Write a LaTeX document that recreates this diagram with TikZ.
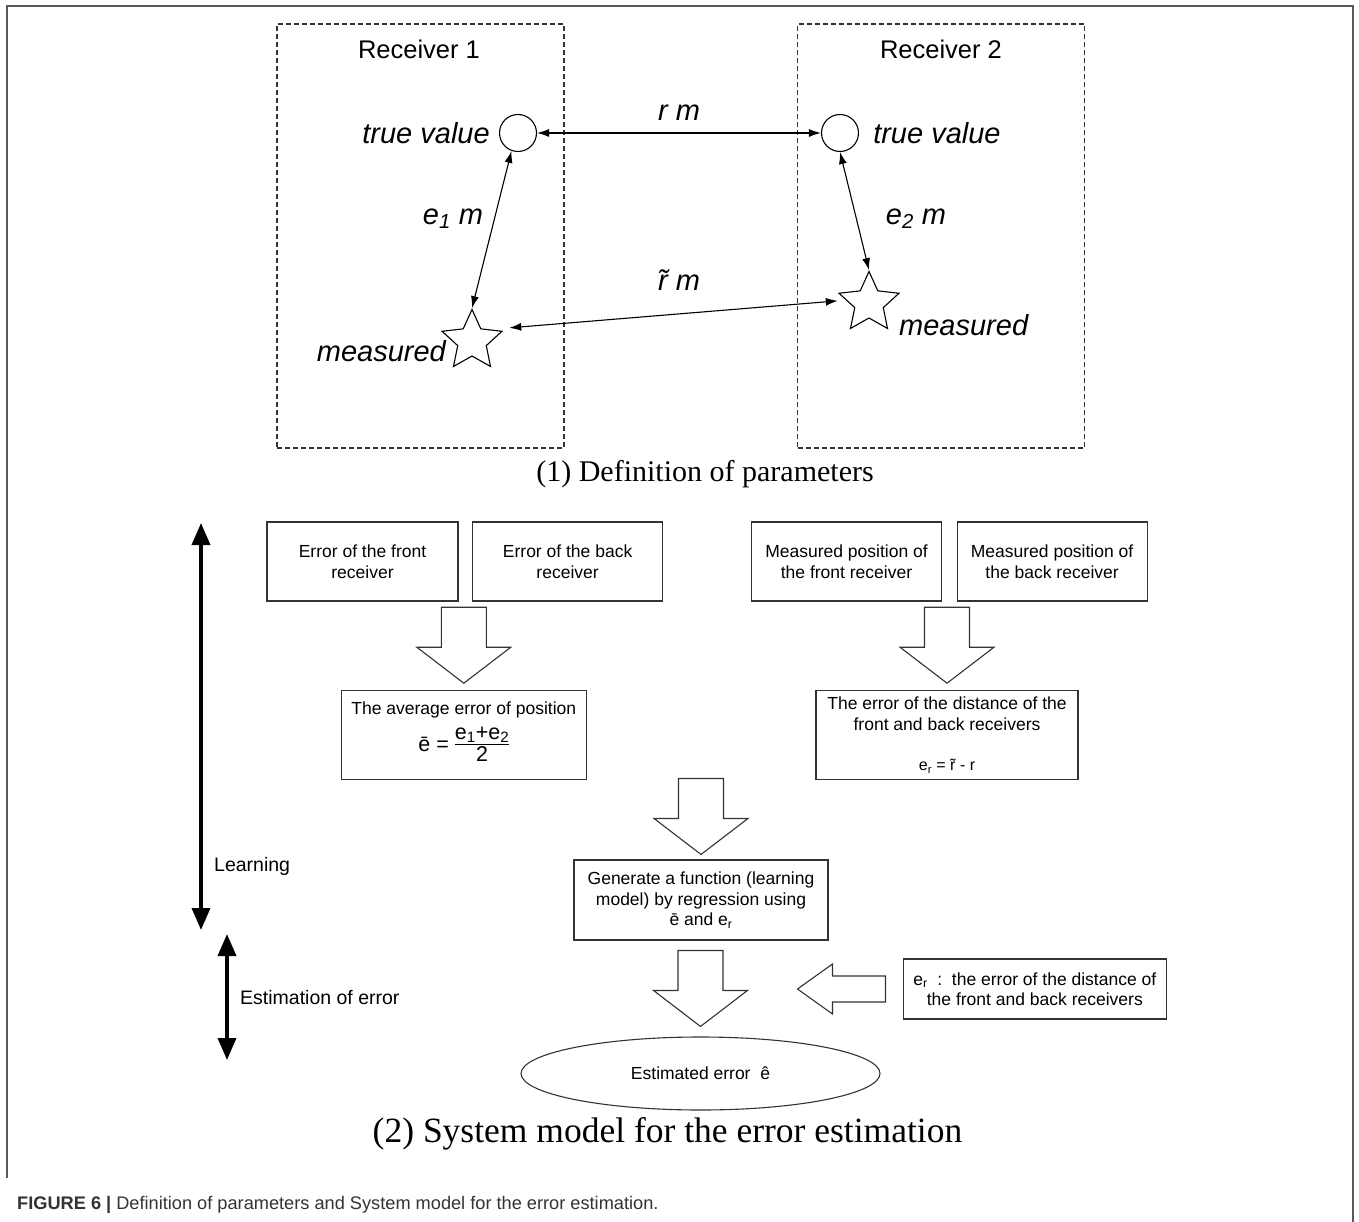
\RequirePackage{fix-cm}
\documentclass[tikz,border=0pt]{standalone}
\usepackage{fontspec}
\setmainfont{Liberation Serif}
\setsansfont{Liberation Sans}
\usetikzlibrary{shapes, arrows.meta, positioning, calc}

\newcommand{\tr}{\ooalign{r\cr\hidewidth\char"02DC\hidewidth\cr}}

\begin{document}
\begin{tikzpicture}[x=1pt, y=-1pt,
    thin arrow/.style={{Latex[length=12pt,width=8pt]}-{Latex[length=12pt,width=8pt]}, line width=1.1pt},
    thick arrow/.style={{Triangle[length=22pt,width=18pt]}-{Triangle[length=22pt,width=18pt]}, line width=3.5pt},
    rbox/.style={draw=black!80, dash pattern=on 5pt off 3pt, line width=1.1pt, minimum width=287pt, minimum height=424pt, inner sep=0pt},
    head/.style={font=\sffamily\fontsize{25.5}{30}\selectfont},
    lbl/.style={font=\sffamily\itshape\fontsize{29}{34}\selectfont, inner sep=0pt},
    dot/.style={draw, circle, minimum size=37pt, inner sep=0pt, line width=1.1pt},
    mstar/.style={draw, star, star points=5, star point ratio=2.1, minimum size=63pt, inner sep=0pt, line width=1.1pt},
    box/.style={draw=black!80, line width=1.1pt, inner sep=0pt, align=center, font=\sffamily\fontsize{17.5}{20.5}\selectfont},
    capt/.style={font=\fontsize{30}{36}\selectfont},
    side/.style={font=\sffamily\fontsize{19.5}{24}\selectfont, anchor=west, inner sep=0pt},
    fat/.style={draw=black!80, fill=white, line width=1.1pt, line join=miter},
]
    \useasboundingbox (0,0) rectangle (1359,1222);
    \fill[white] (0,0) rectangle (1359,1222);
    \draw[black!65, line width=2pt] (7,1178) -- (7,6.5) -- (1353,6.5) -- (1353,1222);

    % (1) definition of parameters
    \node[rbox] (rb1) at (420.5,236) {};
    \node[rbox] (rb2) at (941,236) {};
    \node[head] (h1) at (419,49) {Receiver 1};
    \node[head] (h2) at (941,49) {Receiver 2};

    \node[dot] (c1) at (518,133) {};
    \node[dot] (c2) at (840,133) {};
    \node[mstar] (s1) at (472,341) {};
    \node[mstar] (s2) at (869,303) {};

    \node[lbl, left=9pt of c1] (t1) {true value};
    \node[lbl, right=14pt of c2] (t2) {true value};
    \node[lbl, anchor=east] (m1) at (446,351) {measured};
    \node[lbl, anchor=west] (m2) at (899,325) {measured};

    \draw[thin arrow] (c1) -- (c2);
    \draw[thin arrow] (c1.250) -- (s1.north);
    \draw[thin arrow] (c2.south) -- (s2.north);
    \draw[thin arrow] ([xshift=6pt,yshift=3pt]s1.outer point 5) -- ([yshift=-8pt]s2.outer point 2);

    \node[lbl] (lr) at (679,113) {r m};
    \node[lbl] (le1) at (453,219) {e\textsubscript{1} m};
    \node[lbl] (le2) at (916,219) {e\textsubscript{2} m};
    \node[lbl] (lrt) at (679,283) {\tr{} m};

    \node[capt] (cap1) at (705,474) {(1) Definition of parameters};

    % (2) system model
    \node[box, minimum width=191pt, minimum height=79pt] (ef) at (362.5,561.5) {Error of the front\\receiver};
    \node[box, minimum width=190pt, minimum height=79pt, right=13.5pt of ef] (eb) {Error of the back\\receiver};
    \node[box, minimum width=190pt, minimum height=79pt] (mf) at (846.5,561.5) {Measured position of\\the front receiver};
    \node[box, minimum width=190pt, minimum height=79pt, right=14.5pt of mf] (mb) {Measured position of\\the back receiver};

    \node[box, minimum width=245.5pt, minimum height=88.5pt] (avg) at (463.8,735) {The average error of position\\[4pt]
        {\fontsize{21.5}{24}\selectfont ē = \renewcommand{\arraystretch}{1.0}\begin{tabular}{@{}c@{}}e\textsubscript{1}+e\textsubscript{2}\\[-3pt]\hline 2\end{tabular}}};
    \node[box, minimum width=262pt, minimum height=88.5pt] (dist) at (947,735) {The error of the distance of the\\front and back receivers\\[20pt]
        {\fontsize{16}{19}\selectfont e\textsubscript{r} = \tr{} - r}};
    \node[box, minimum width=254pt, minimum height=80pt] (gen) at (701,900) {Generate a function (learning\\model) by regression using\\ē and e\textsubscript{r}};
    \node[box, minimum width=263.5pt, minimum height=60pt] (ern) at (1034.8,989) {e\textsubscript{r}\ \ :\ \ the error of the distance of\\the front and back receivers};
    \node[box, ellipse, minimum width=359pt, minimum height=73pt] (est) at (700.5,1073.5) {Estimated error\ \ ê};

    \coordinate (d1) at ([yshift=7pt]avg.north);
    \coordinate (d2) at ([yshift=7pt]dist.north);
    \coordinate (d3) at ([yshift=5pt]gen.north);
    \coordinate (d4) at ([yshift=10pt]est.north);
    \foreach \d in {d1, d2, d3, d4}
        \draw[fat] (\d) -- ++(47,-36) -- ++(-24.5,0) -- ++(0,-40) -- ++(-45,0) -- ++(0,40) -- ++(-24.5,0) -- cycle;
    \coordinate (l1) at ([xshift=-105pt]ern.west);
    \draw[fat] (l1) -- ++(35,-25) -- ++(0,12) -- ++(53,0) -- ++(0,26) -- ++(-53,0) -- ++(0,12) -- cycle;

    \coordinate (lt) at (201,523);
    \coordinate (lb) at (201,930);
    \coordinate (et) at (227,934);
    \coordinate (eb2) at (227,1060);
    \draw[thick arrow] (lt) -- (lb);
    \draw[thick arrow] (et) -- (eb2);
    \node[side] (learn) at (214,866) {Learning};
    \node[side] (esterr) at (240,998) {Estimation of error};

    \node[capt, font=\fontsize{35.5}{42}\selectfont] (cap2) at (667.5,1134) {(2) System model for the error estimation};

    \node[anchor=base west, inner sep=0pt, text=black!80, font=\sffamily\fontsize{18.2}{21}\selectfont] (fig) at (17,1209)
        {\textbf{FIGURE 6 |} Definition of parameters and System model for the error estimation.};
\end{tikzpicture}
\end{document}
